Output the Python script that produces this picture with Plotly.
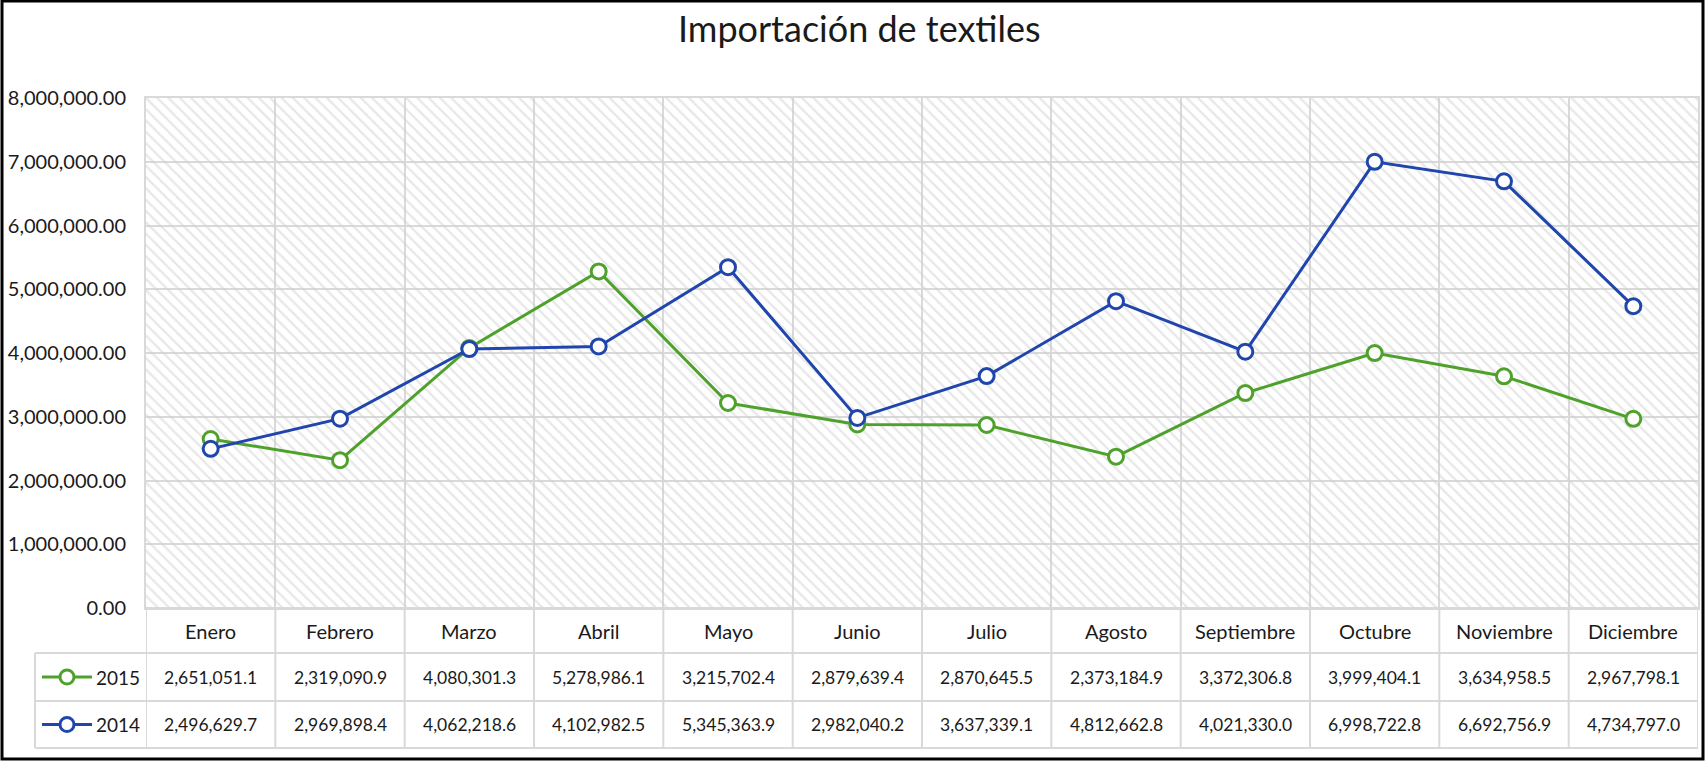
import plotly.graph_objects as go

# ---------------- data ----------------
categories = ["Enero", "Febrero", "Marzo", "Abril", "Mayo", "Junio", "Julio",
              "Agosto", "Septiembre", "Octubre", "Noviembre", "Diciembre"]
series_names = ["2015", "2014"]
values_2015 = [2651051.1, 2319090.9, 4080301.3, 5278986.1, 3215702.4, 2879639.4,
               2870645.5, 2373184.9, 3372306.8, 3999404.1, 3634958.5, 2967798.1]
values_2014 = [2496629.7, 2969898.4, 4062218.6, 4102982.5, 5345363.9, 2982040.2,
               3637339.1, 4812662.8, 4021330.0, 6998722.8, 6692756.9, 4734797.0]
title_text = "Importación de textiles"
Y_MAX = 8000000
Y_STEP = 1000000

# ---------------- style / layout ----------------
W, H = 1705, 761
FONT = "Lato, Open Sans, sans-serif"
GREEN = "#4ea22b"
BLUE = "#2046ad"
GRID = "#d9d9d9"
TXT = "#1a1a1a"

PLOT_L, PLOT_R, PLOT_T, PLOT_B = 146, 1698, 98, 608
ROW1_B, ROW2_B, ROW3_B = 653, 701, 748
LEG_L = 35


def px(x):
    return x / W


def py(y):
    return 1 - y / H


fig = go.Figure()

# hatched plot background
fig.add_trace(go.Bar(
    x=categories, y=[Y_MAX] * len(categories), width=1,
    marker=dict(color="rgba(0,0,0,0)", line_width=0,
                pattern=dict(shape="\\", fgcolor="#d0d0d0", bgcolor="rgba(0,0,0,0)",
                             size=8, solidity=0.28)),
    hoverinfo="skip", showlegend=False))

series = [(series_names[0], values_2015, GREEN), (series_names[1], values_2014, BLUE)]
for name, vals, col in series:
    fig.add_trace(go.Scatter(
        x=categories, y=vals, name=name, mode="lines+markers",
        line=dict(color=col, width=3),
        marker=dict(symbol="circle", size=15, color="white",
                    line=dict(color=col, width=3)),
        showlegend=False))

shapes = []
# outer border
shapes.append(dict(type="rect", xref="paper", yref="paper",
                   x0=px(2), x1=px(1703), y0=py(759), y1=py(1),
                   line=dict(color="black", width=3)))
# table horizontal lines
for yy, xl in [(PLOT_B, PLOT_L), (ROW1_B, LEG_L), (ROW2_B, LEG_L), (ROW3_B, LEG_L)]:
    shapes.append(dict(type="line", xref="paper", yref="paper",
                       x0=px(xl), x1=px(PLOT_R), y0=py(yy), y1=py(yy),
                       line=dict(color=GRID, width=2)))
# table vertical lines at category boundaries
for i in range(len(categories) + 1):
    shapes.append(dict(type="line", xref="x", yref="paper",
                       x0=i - 0.5, x1=i - 0.5, y0=py(PLOT_B), y1=py(ROW3_B),
                       line=dict(color=GRID, width=2)))
shapes.append(dict(type="line", xref="paper", yref="paper",
                   x0=px(LEG_L), x1=px(LEG_L), y0=py(ROW1_B), y1=py(ROW3_B),
                   line=dict(color=GRID, width=2)))

annotations = []
annotations.append(dict(text=title_text, xref="paper", yref="paper",
                        x=px(859), y=py(28), xanchor="center", yanchor="middle",
                        showarrow=False, font=dict(family=FONT, size=36, color=TXT)))
cat_y = (PLOT_B + ROW1_B) / 2
for c in categories:
    annotations.append(dict(text=c, xref="x", yref="paper", x=c, y=py(cat_y),
                            xanchor="center", yanchor="middle", showarrow=False,
                            font=dict(family=FONT, size=20, color=TXT)))

row_centers = [(ROW1_B + ROW2_B) / 2, (ROW2_B + ROW3_B) / 2]
for (name, vals, col), yc in zip(series, row_centers):
    for c, v in zip(categories, vals):
        annotations.append(dict(text=f"{v:,.1f}", xref="x", yref="paper", x=c, y=py(yc),
                                xanchor="center", yanchor="middle", showarrow=False,
                                font=dict(family=FONT, size=17.5, color=TXT)))
    # legend key
    shapes.append(dict(type="line", xref="paper", yref="paper",
                       x0=px(42), x1=px(92), y0=py(yc), y1=py(yc),
                       line=dict(color=col, width=3)))
    shapes.append(dict(type="circle", xref="paper", yref="paper",
                       x0=px(67 - 7), x1=px(67 + 7), y0=py(yc + 7), y1=py(yc - 7),
                       fillcolor="white", line=dict(color=col, width=3)))
    annotations.append(dict(text=name, xref="paper", yref="paper", x=px(94), y=py(yc),
                            xanchor="left", yanchor="middle", showarrow=False,
                            font=dict(family=FONT, size=19, color=TXT)))

fig.update_layout(
    width=W, height=H,
    margin=dict(l=0, r=0, t=0, b=0, autoexpand=False),
    paper_bgcolor="white", plot_bgcolor="white",
    barmode="overlay", bargap=0,
    shapes=shapes, annotations=annotations,
    xaxis=dict(domain=[px(PLOT_L), px(PLOT_R)], type="category",
               range=[-0.5, len(categories) - 0.5], tickson="boundaries",
               showgrid=True, gridcolor=GRID, gridwidth=2,
               showticklabels=False, ticks="", zeroline=False,
               showline=True, linecolor=GRID, linewidth=2, mirror=True,
               automargin=False, fixedrange=True),
    yaxis=dict(domain=[py(PLOT_B), py(PLOT_T)], range=[0, Y_MAX], dtick=Y_STEP,
               tickformat=",.2f", showgrid=True, gridcolor=GRID, gridwidth=2,
               zeroline=False, ticks="", ticklabelstandoff=14,
               tickfont=dict(family=FONT, size=20, color=TXT),
               showline=True, linecolor=GRID, linewidth=2, mirror=True,
               automargin=False, fixedrange=True),
)

fig.write_html(
    "out.html",
    config={"displayModeBar": False},
    post_script="document.body.style.margin='0';document.body.style.overflow='hidden';",
)
